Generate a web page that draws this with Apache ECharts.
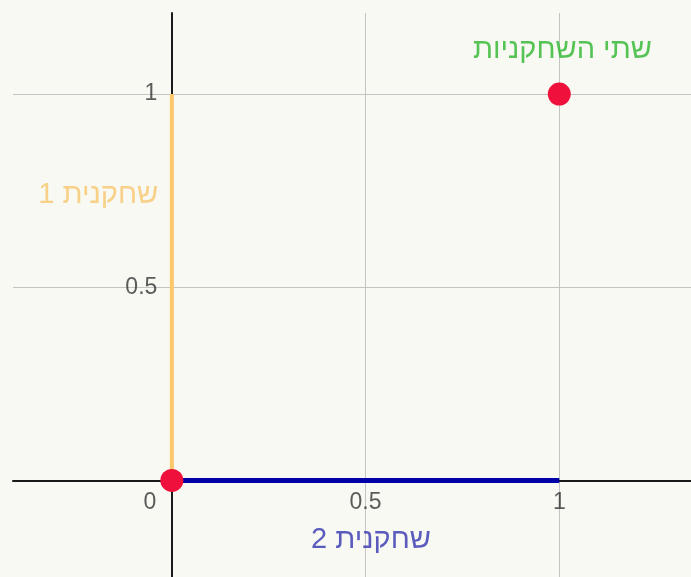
<!DOCTYPE html>
<html><head><meta charset="utf-8">
<script src="https://cdn.jsdelivr.net/npm/echarts@6/dist/echarts.min.js"></script>
<style>html,body{margin:0;padding:0;background:#f7f9f2;} #c{width:691px;height:577px;}</style>
</head><body><div id="c" dir="rtl"></div>
<script>
// Axis ticks / grid
const xTickValues = [0, 0.5, 1];
const yTickValues = [0.5, 1];
const xGridValues = [0.5, 1];
const yGridValues = [0.5, 1];
// Strategy segments and points
const player1Segment = [[0, 0], [0, 1]];
const player2Segment = [[0, 0], [1, 0]];
const equilibriumPoints = [[0, 0], [1, 1]];
// Text annotations (data-space anchors)
const textLabels = ['שתי השחקניות', 'שחקנית 1', 'שחקנית 2'];
const textAnchors = [[1.008, 1.114], [-0.19, 0.738], [0.514, -0.155]];
const textColors = ['#2db52d', '#f8c66c', '#3333b0'];

const FONT = '"Liberation Sans", Arial, "DejaVu Sans", sans-serif';
const TICK_COLOR = '#333333';
const TICK_SIZE = 23;
const chart = echarts.init(document.getElementById('c'), null, {renderer: 'canvas'});

const markData = xGridValues.map(v => ({xAxis: v})).concat(yGridValues.map(v => ({yAxis: v})));

const xTickData = xTickValues.map(v => ({
  value: [v, 0],
  label: {
    show: true, position: 'bottom', distance: 10,
    formatter: v === 0 ? '{o|0}' : String(v),
    rich: {o: {padding: [0, 44, 0, 0], color: TICK_COLOR, fontSize: TICK_SIZE, fontFamily: FONT}},
    color: TICK_COLOR, fontSize: TICK_SIZE, fontFamily: FONT
  }
}));
const yTickData = yTickValues.map(v => ({
  value: [0, v],
  label: {
    show: true, position: 'left', distance: 14,
    formatter: String(v),
    color: TICK_COLOR, fontSize: TICK_SIZE, fontFamily: FONT
  }
}));

chart.setOption({
  backgroundColor: '#f7f9f2',
  animation: false,
  grid: {left: 13, top: 13, right: 0, bottom: 0, containLabel: false, outerBoundsMode: 'none'},
  xAxis: {
    type: 'value', min: -0.41, max: 1.34,
    axisLine: {show: true, onZero: true, lineStyle: {color: '#1a1a1a', width: 2}},
    axisTick: {show: false},
    splitLine: {show: false},
    axisLabel: {show: false}
  },
  yAxis: {
    type: 'value', min: -0.25, max: 1.21,
    axisLine: {show: true, onZero: true, lineStyle: {color: '#1a1a1a', width: 2}},
    axisTick: {show: false},
    splitLine: {show: false},
    axisLabel: {show: false}
  },
  series: [
    {
      type: 'line', data: [], z: 1, silent: true,
      markLine: {
        z: 0, silent: true, symbol: 'none', animation: false,
        label: {show: false},
        lineStyle: {color: '#c4c4c4', width: 1, type: 'solid'},
        data: markData
      }
    },
    {
      name: 'ticks', type: 'scatter', z: 2, silent: true,
      symbolSize: 1, itemStyle: {color: 'rgba(0,0,0,0)'},
      data: xTickData.concat(yTickData)
    },
    {
      name: 'player1', type: 'line', data: player1Segment, showSymbol: false, z: 3,
      lineStyle: {color: '#fbc86a', width: 4}
    },
    {
      name: 'player2', type: 'line', data: player2Segment, showSymbol: false, z: 3,
      lineStyle: {color: '#0000a8', width: 5}
    },
    {
      name: 'points', type: 'scatter', data: equilibriumPoints, z: 5,
      symbol: 'circle', symbolSize: 23,
      itemStyle: {color: '#f0103c', opacity: 1}
    },
    {
      name: 'labels', type: 'scatter', z: 6, silent: true,
      symbolSize: 1, itemStyle: {color: 'rgba(0,0,0,0)'},
      data: textAnchors.map((p, i) => ({
        value: p,
        label: {show: true, position: 'inside', formatter: textLabels[i],
          color: textColors[i], fontSize: 29, fontFamily: FONT}
      }))
    }
  ]
});
</script></body></html>
